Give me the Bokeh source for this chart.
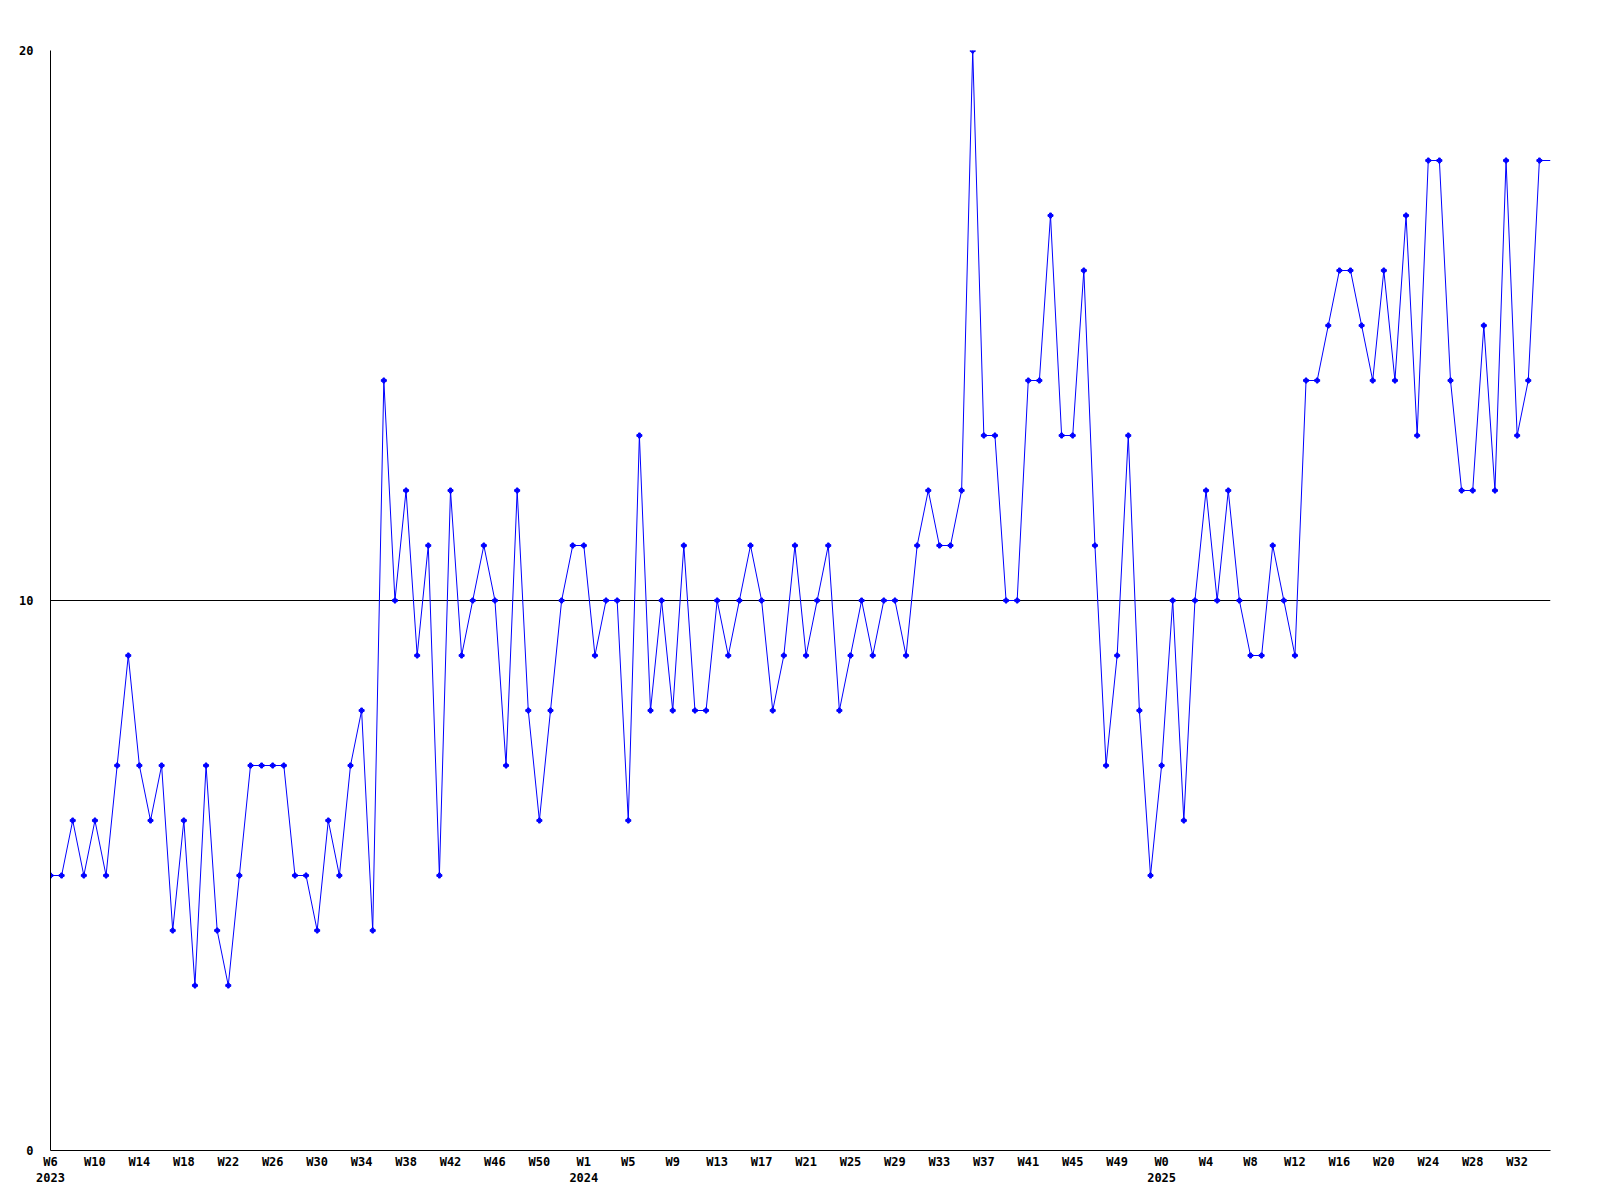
from bokeh.plotting import figure
from bokeh.models import FixedTicker, Range1d
from bokeh.embed import file_html
from bokeh.resources import INLINE

# Weekly values, W6 2023 .. W34 2025 (last entry is the running week, drawn as line only)
values = [
    5, 5, 6, 5, 6, 5, 7, 9, 7, 6,
    7, 4, 6, 3, 7, 4, 3, 5, 7, 7,
    7, 7, 5, 5, 4, 6, 5, 7, 8, 4,
    14, 10, 12, 9, 11, 5, 12, 9, 10, 11,
    10, 7, 12, 8, 6, 8, 10, 11, 11, 9,
    10, 10, 6, 13, 8, 10, 8, 11, 8, 8,
    10, 9, 10, 11, 10, 8, 9, 11, 9, 10,
    11, 8, 9, 10, 9, 10, 10, 9, 11, 12,
    11, 11, 12, 20, 13, 13, 10, 10, 14, 14,
    17, 13, 13, 16, 11, 7, 9, 13, 8, 5,
    7, 10, 6, 10, 12, 10, 12, 10, 9, 9,
    11, 10, 9, 14, 14, 15, 16, 16, 15, 14,
    16, 14, 17, 13, 18, 18, 14, 12, 12, 15,
    12, 18, 13, 14, 18, 18,
]

tick_labels = [
    "W6\n2023", "W10", "W14", "W18", "W22", "W26", "W30", "W34", "W38", "W42", "W46", "W50",
    "W1\n2024", "W5", "W9", "W13", "W17", "W21", "W25", "W29", "W33", "W37", "W41", "W45", "W49",
    "W0\n2025", "W4", "W8", "W12", "W16", "W20", "W24", "W28", "W32",
]
label_every = 4
y_ticks = [0, 10, 20]

x = list(range(len(values)))
tick_positions = [i * label_every for i in range(len(tick_labels))]

p = figure(
    frame_width=1500, frame_height=1100,
    x_range=Range1d(0, len(values) - 1), y_range=Range1d(0, 20),
    output_backend="svg", toolbar_location=None,
    min_border_left=50, min_border_right=34, min_border_top=50, min_border_bottom=34,
    background_fill_color="white", border_fill_color="white",
)
p.outline_line_color = None

p.line(x, values, line_color="#0000ff", line_width=1)
p.scatter(x[:-1], values[:-1], marker="plus", size=5, color="#0000ff")

font = "DejaVu Sans Mono"

p.xaxis.ticker = FixedTicker(ticks=tick_positions)
p.xaxis.major_label_overrides = {pos: lab for pos, lab in zip(tick_positions, tick_labels)}
p.yaxis.ticker = FixedTicker(ticks=y_ticks)

for ax in (p.xaxis, p.yaxis):
    ax.axis_line_color = "black"
    ax.axis_line_width = 1
    ax.major_tick_out = 0
    ax.major_tick_in = 0
    ax.minor_tick_out = 0
    ax.minor_tick_in = 0
    ax.major_label_text_font = font
    ax.major_label_text_font_style = "bold"
    ax.major_label_text_font_size = "12px"
    ax.major_label_text_color = "black"

p.xaxis.major_label_standoff = 4
p.yaxis.major_label_standoff = 17

p.xgrid.visible = False
p.ygrid.ticker = FixedTicker(ticks=y_ticks)
p.ygrid.grid_line_color = "black"
p.ygrid.grid_line_width = 1

open("out.html", "w").write(file_html(p, INLINE))
